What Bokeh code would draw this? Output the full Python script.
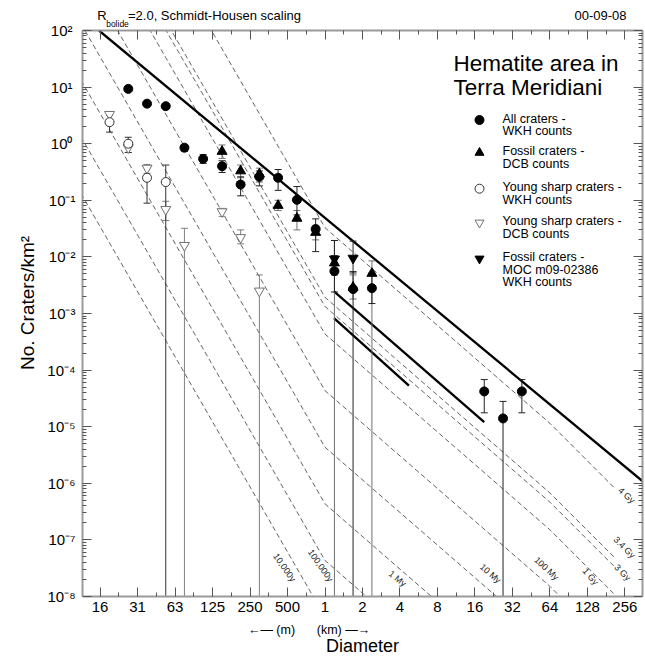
from bokeh.plotting import figure
from bokeh.models import Range1d, LogAxis, FixedTicker, Label
from bokeh.embed import file_html
from bokeh.resources import INLINE

# ---------------- data (diameters in km, densities per km^2) ----------------
x_tick_labels = ["16", "31", "63", "125", "250", "500", "1", "2", "4", "8",
                 "16", "32", "64", "128", "256"]

all_D = [0.0263, 0.0372, 0.0526, 0.0743, 0.105, 0.149, 0.210, 0.297, 0.420,
         0.595, 0.841, 1.19, 1.68, 2.38, 19.0, 26.9, 38.1]
all_N = [9.3, 5.1, 4.6, 0.85, 0.54, 0.40, 0.19, 0.26, 0.25, 0.102, 0.031,
         0.0056, 0.0027, 0.0028, 4.2e-5, 1.4e-5, 4.2e-5]
all_lo = [8.6, 4.6, 4.2, 0.74, 0.45, 0.31, 0.12, 0.18, 0.15, 0.055, 0.0124,
          0.0024, None, 0.0015, 1.76e-5, None, 1.76e-5]
all_hi = [10.0, 5.5, 5.0, 0.95, 0.64, 0.50, 0.26, 0.33, 0.35, 0.175, 0.047,
          0.0105, 0.0055, 0.0052, 6.8e-5, 2.8e-5, 6.8e-5]

fossil_D = [0.149, 0.210, 0.297, 0.420, 0.595, 0.841, 1.19, 1.68, 2.38]
fossil_N = [0.73, 0.33, 0.29, 0.081, 0.048, 0.027, 0.0078, 0.0029, 0.0051]
fossil_lo = [0.55, 0.25, 0.21, 0.066, 0.030, 0.020, None, 0.0018, None]
fossil_hi = [0.95, 0.42, 0.37, 0.10, 0.066, 0.036, 0.0195, 0.0048, 0.0085]

ywkh_D = [0.0186, 0.0263, 0.0372, 0.0526]
ywkh_N = [2.4, 1.0, 0.25, 0.21]
ywkh_lo = [1.6, 0.70, 0.089, None]
ywkh_hi = [3.15, 1.30, 0.38, 0.42]

ydcb_D = [0.0186, 0.0263, 0.0372, 0.0526, 0.0743, 0.149, 0.210, 0.297]
ydcb_N = [3.3, 0.85, 0.37, 0.069, 0.016, 0.063, 0.022, 0.0025]
ydcb_lo = [2.7, 0.70, 0.30, 0.044, None, 0.052, 0.017, None]
ydcb_hi = [3.7, 1.0, 0.43, 0.096, 0.032, 0.072, 0.030, 0.0048]

moc_D = [1.19, 1.68]
moc_N = [0.0092, 0.0095]
moc_lo = [0.0048, 0.0052]
moc_hi = [0.0195, 0.019]

sat_D = [0.0153, 362.0]
sat_N = [100.0, 1.05e-6]
line2_D = [1.18, 19.0]
line2_N = [2.45e-3, 1.2e-5]
line3_D = [1.18, 4.72]
line3_N = [8.3e-4, 5.3e-5]

iso_D = [0.011, 1.0, 64.0, 215.0]
iso_names = ["10,000y", "100,000y", "1 My", "10 My", "100 My", "1 Gy", "3 Gy", "3.4 Gy", "4 Gy"]
iso_N = [
    [1.31e-1, 4.33e-9, 1.51e-12, 1.05e-13],
    [1.31, 4.33e-8, 1.51e-11, 1.05e-12],
    [13.1, 4.33e-7, 1.51e-10, 1.05e-11],
    [131.0, 4.33e-6, 1.51e-9, 1.05e-10],
    [1.31e3, 4.33e-5, 1.51e-8, 1.05e-9],
    [1.31e4, 4.33e-4, 1.51e-7, 1.05e-8],
    [4.04e4, 1.33e-3, 4.65e-7, 3.23e-8],
    [5.86e4, 1.93e-3, 6.75e-7, 4.69e-8],
    [9.95e5, 3.28e-2, 1.15e-5, 7.96e-7],
]

legend_entries = [["All craters -", "WKH counts"],
                  ["Fossil craters -", "DCB counts"],
                  ["Young sharp craters -", "WKH counts"],
                  ["Young sharp craters -", "DCB counts"],
                  ["Fossil craters -", "MOC m09-02386", "WKH counts"]]

# ---------------- figure ----------------
FONT = "Liberation Sans"
XL, XR = -6.47, 8.47          # log2 of x range in km
FL, FT = 82.0, 30.0           # page px of frame left / top
FW, FH = 560, 566
PXD = FW / (XR - XL)
PDEC = FH / 10.0

p = figure(x_axis_type="log", y_axis_type="log",
           x_range=Range1d(2 ** XL, 2 ** XR), y_range=Range1d(1e-8, 1e2),
           frame_width=FW, frame_height=FH,
           min_border_left=82, min_border_right=3, min_border_top=30, min_border_bottom=60,
           output_backend="svg", toolbar_location=None)
p.outline_line_color = None
p.xgrid.visible = False
p.ygrid.visible = False
p.background_fill_color = "white"
p.border_fill_color = "white"


def D_at(px):
    return 2 ** (XL + (px - FL) / PXD)


def N_at(py):
    return 10 ** (2 - (py - FT) / PDEC)


xt = [2.0 ** k for k in range(-6, 9)]
xmt = [2.0 ** (k + 0.5) for k in range(-7, 9)]
yt = [10.0 ** k for k in range(-8, 3)]
ymt = [m * 10.0 ** k for k in range(-8, 2) for m in range(2, 10)]

SUP = {"0": "\u2070", "1": "\u00b9", "2": "\u00b2", "3": "\u00b3", "4": "\u2074",
       "5": "\u2075", "6": "\u2076", "7": "\u2077", "8": "\u2078", "9": "\u2079",
       "-": "\u207b"}


def sup(k):
    s = "".join(SUP[c] for c in str(k))
    return s + ("\u2009" if k >= 0 else "")


def frame_axis(ax, labels):
    ax.axis_line_color = "#9a9a9a"
    ax.axis_line_width = 2
    ax.major_tick_line_color = "#555555"
    ax.minor_tick_line_color = "#555555"
    ax.major_tick_in = 9
    ax.major_tick_out = 0
    ax.minor_tick_in = 4
    ax.minor_tick_out = 0
    ax.major_label_text_font = FONT
    ax.major_label_text_color = "black"
    if not labels:
        ax.major_label_text_font_size = "1px"
        ax.major_label_text_alpha = 0
        ax.major_label_standoff = 0


def text_axis(ax, size, standoff):
    ax.axis_line_color = None
    ax.major_tick_line_color = None
    ax.minor_tick_line_color = None
    ax.major_tick_in = 0
    ax.major_tick_out = 0
    ax.minor_tick_in = 0
    ax.minor_tick_out = 0
    ax.major_label_text_font = FONT
    ax.major_label_text_font_size = f"{size}px"
    ax.major_label_text_color = "black"
    ax.major_label_standoff = standoff


# bottom axis with diameter labels
xa = p.xaxis[0]
xa.ticker = FixedTicker(ticks=xt, minor_ticks=xmt)
xa.major_label_overrides = {t: s for t, s in zip(xt, x_tick_labels)}
frame_axis(xa, True)
xa.major_label_text_font_size = "15px"
xa.major_label_standoff = 5

# second row below: units and axis title
unit_pos = [D_at(271), D_at(343)]
xb = LogAxis(ticker=FixedTicker(ticks=unit_pos, minor_ticks=[]),
             major_label_overrides={unit_pos[0]: "\u2190\u2014 (m)", unit_pos[1]: "(km) \u2014\u2192"})
text_axis(xb, 12.5, 8)
xb.axis_label = "Diameter"
xb.axis_label_text_font = FONT
xb.axis_label_text_font_size = "18px"
xb.axis_label_text_font_style = "normal"
xb.axis_label_text_color = "black"
xb.axis_label_standoff = -4
p.add_layout(xb, "below")

# left axis
ya = p.yaxis[0]
ya.ticker = FixedTicker(ticks=yt, minor_ticks=ymt)
frame_axis(ya, True)
ya.major_label_overrides = {t: "10" + sup(k) for t, k in zip(yt, range(-8, 3))}
ya.major_label_text_font_size = "15px"
ya.major_label_standoff = 7
ya.axis_label = "\u00a0\u00a0\u00a0\u00a0No. Craters/km\u00b2"
ya.axis_label_text_font = FONT
ya.axis_label_text_font_size = "19px"
ya.axis_label_text_font_style = "normal"
ya.axis_label_text_color = "black"
ya.axis_label_standoff = 6

# top (frame) axis and title rows
top = LogAxis(ticker=FixedTicker(ticks=xt, minor_ticks=xmt))
frame_axis(top, False)
p.add_layout(top, "above")

sub_pos = [D_at(117.0)]
t2 = LogAxis(ticker=FixedTicker(ticks=sub_pos, minor_ticks=[]),
             major_label_overrides={sub_pos[0]: "bolide"})
text_axis(t2, 8.5, 2)
p.add_layout(t2, "above")

title_pos = [D_at(101.5), D_at(214.0), D_at(600.0)]
t3 = LogAxis(ticker=FixedTicker(ticks=title_pos, minor_ticks=[]),
             major_label_overrides={title_pos[0]: "R",
                                    title_pos[1]: "=2.0, Schmidt-Housen scaling",
                                    title_pos[2]: "00-09-08"})
text_axis(t3, 13, -7)
p.add_layout(t3, "above")

right = LogAxis(ticker=FixedTicker(ticks=yt, minor_ticks=ymt))
frame_axis(right, False)
p.add_layout(right, "right")


def label(px, py, text, size, align="left", baseline="middle", angle=0.0, color="black"):
    p.add_layout(Label(x=D_at(px), y=N_at(py), text=text, text_font=FONT,
                       text_font_size=f"{size}px", text_align=align,
                       text_baseline=baseline, angle=angle, text_color=color))


# isochrons
for n in iso_N:
    p.line(iso_D, n, line_color="#3a3a3a", line_width=0.8, line_dash="5 3")

# thick lines
for xs, ys in [(sat_D, sat_N), (line2_D, line2_N), (line3_D, line3_N)]:
    p.line(xs, ys, line_color="black", line_width=2.3)


def errbars(D, lo, hi, color):
    x0, y0, y1, cx, cy = [], [], [], [], []
    for d, l, h in zip(D, lo, hi):
        x0.append(d)
        y0.append(l if l is not None else 1e-9)
        y1.append(h)
        cx.append(d)
        cy.append(h)
        if l is not None:
            cx.append(d)
            cy.append(l)
    p.segment(x0, y0, x0, y1, line_color=color, line_width=1)
    p.scatter(cx, cy, marker="dash", size=7, line_color=color, line_width=1)


errbars(ydcb_D, ydcb_lo, ydcb_hi, "#808080")
errbars(ywkh_D, ywkh_lo, ywkh_hi, "#333333")
errbars(fossil_D, fossil_lo, fossil_hi, "#707070")
errbars(moc_D, moc_lo, moc_hi, "#222222")
errbars(all_D, all_lo, all_hi, "#222222")

p.scatter(ydcb_D, ydcb_N, marker="inverted_triangle", size=10, fill_color="white",
          line_color="#707070", line_width=1)
p.scatter(ywkh_D, ywkh_N, marker="circle", size=9, fill_color="white",
          line_color="#333333", line_width=1)
p.scatter(fossil_D, fossil_N, marker="triangle", size=10, fill_color="black", line_color="black")
p.scatter(moc_D, moc_N, marker="inverted_triangle", size=10, fill_color="black", line_color="black")
p.scatter(all_D, all_N, marker="circle", size=9, fill_color="black", line_color="black")

# legend (drawn by hand inside the frame)
leg_sym = [("circle", "black", "black"), ("triangle", "black", "black"),
           ("circle", "white", "#333333"), ("inverted_triangle", "white", "#707070"),
           ("inverted_triangle", "black", "black")]
leg_top = [118.0, 150.7, 186.7, 220.7, 256.7]
for (m, fc, lc), lines, py0 in zip(leg_sym, legend_entries, leg_top):
    p.scatter([D_at(479)], [N_at(py0 + 1.5)], marker=m, size=9, fill_color=fc, line_color=lc)
    for i, t in enumerate(lines):
        label(502, py0 + 12.6 * i, t, 12.5)

label(453, 63, "Hematite area in", 22.5)
label(453, 87, "Terra Meridiani", 22.5)

# isochron labels
iso_lab_pos = [(284, 567, -0.96), (320, 565, -0.96), (397, 578, -0.68), (490, 573, -0.72),
               (546, 568, -0.75), (590, 576, -0.87), (622, 572, -0.78), (624, 547, -0.78),
               (626, 495, -0.74)]
for name, (px, py, a) in zip(iso_names, iso_lab_pos):
    label(px, py, name, 9, align="center", angle=a, color="#222222")

open("out.html", "w").write(file_html(p, INLINE))
